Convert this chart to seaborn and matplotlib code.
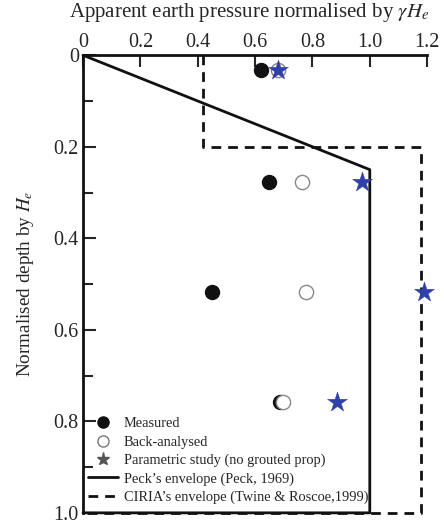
import numpy as np
import pandas as pd
import seaborn as sns
import matplotlib.pyplot as plt
from matplotlib.lines import Line2D
from matplotlib.ticker import MultipleLocator

# normalised depth of the prop levels
depth = [0.033, 0.277, 0.518, 0.757]
# apparent earth pressure / (gamma He)
measured = [0.62, 0.65, 0.45, 0.688]
back_analysed = [0.68, 0.765, 0.778, 0.699]
parametric = [0.68, 0.973, 1.19, 0.885]

# envelopes
peck_x = [0, 1.0, 1.0, 0]
peck_y = [0, 0.25, 1.0, 1.0]
ciria_x = [0.42, 0.42, 1.18, 1.18, 0]
ciria_y = [0, 0.2, 0.2, 1.0, 1.0]

x_ticks = [0, 0.2, 0.4, 0.6, 0.8, 1.0, 1.2]
x_ticklabels = ['0', '0.2', '0.4', '0.6', '0.8', '1.0', '1.2']
y_ticks = [0, 0.2, 0.4, 0.6, 0.8, 1.0]
y_ticklabels = ['0', '0.2', '0.4', '0.6', '0.8', '1.0']

sns.set_style('ticks')
plt.rcParams['font.family'] = ['Liberation Serif', 'DejaVu Serif']
plt.rcParams['mathtext.fontset'] = 'stix'

fig = plt.figure(figsize=(4.44, 5.26), dpi=100)
ax = fig.add_axes([0.187, 0.025, 0.775, 0.870])

df_pts = pd.DataFrame({'depth': depth, 'measured': measured,
                       'back': back_analysed, 'param': parametric})

# envelopes
sns.lineplot(x=peck_x, y=peck_y, sort=False, estimator=None, color='#111111',
             lw=2, ax=ax, clip_on=False)
sns.lineplot(x=ciria_x, y=ciria_y, sort=False, estimator=None, color='#111111',
             lw=2, ax=ax, clip_on=False, dashes=False, linestyle=(0, (3.5, 2.5)))

# data points
sns.scatterplot(data=df_pts, x='measured', y='depth', color='#111111', s=105,
                edgecolor='#111111', linewidth=0.8, ax=ax, zorder=4, clip_on=False)
sns.scatterplot(data=df_pts, x='back', y='depth', color='white', s=105,
                edgecolor='#888888', linewidth=1.0, ax=ax, zorder=5, clip_on=False)
sns.scatterplot(data=df_pts, x='param', y='depth', marker='*', color='#2f40a8', s=230,
                edgecolor='#2f40a8', linewidth=0.3, ax=ax, zorder=6, clip_on=False)

ax.set_xlim(0, 1.2)
ax.set_ylim(1.0, 0)
ax.xaxis.tick_top()
ax.xaxis.set_label_position('top')
ax.set_xticks(x_ticks)
ax.set_xticklabels(x_ticklabels)
ax.set_yticks(y_ticks)
ax.set_yticklabels(y_ticklabels)
ax.yaxis.set_minor_locator(MultipleLocator(0.1))
ax.tick_params(axis='x', which='major', direction='in', length=8.5, width=1.5,
               labelsize=14.5, pad=2)
ax.tick_params(axis='y', which='major', direction='in', length=9, width=1.5,
               labelsize=14.5, pad=3)
ax.tick_params(axis='y', which='minor', direction='in', length=7, width=1.5)

for pos in ['right', 'bottom']:
    ax.spines[pos].set_visible(False)
for pos in ['top', 'left']:
    ax.spines[pos].set_linewidth(2)
    ax.spines[pos].set_color('#111111')

ax.set_xlabel(r'Apparent earth pressure normalised by $\gamma H_e$', fontsize=15)
ax.xaxis.set_label_coords(0.482, 1.083)
ax.set_ylabel(r'Normalised depth by $H_e$', fontsize=13.8, labelpad=13)

handles = [
    Line2D([], [], marker='o', ls='none', color='#111111', markersize=8),
    Line2D([], [], marker='o', ls='none', markerfacecolor='white',
           markeredgecolor='#777777', markersize=8),
    Line2D([], [], marker='*', ls='none', color='#555555', markersize=9.5),
    Line2D([], [], color='#111111', lw=2),
    Line2D([], [], color='#111111', lw=2, linestyle=(0, (3.5, 2.5))),
]
labels = ['Measured', 'Back-analysed', 'Parametric study (no grouted prop)',
          "Peck\u2019s envelope (Peck, 1969)",
          "CIRIA\u2019s envelope (Twine & Roscoe,1999)"]
ax.legend(handles, labels, loc='lower left', bbox_to_anchor=(-0.012, 0.0),
          frameon=False, fontsize=10.4, handlelength=2.1, handletextpad=0.4,
          labelspacing=0.35, borderaxespad=0.2)

fig.savefig('out.png', dpi=100)
